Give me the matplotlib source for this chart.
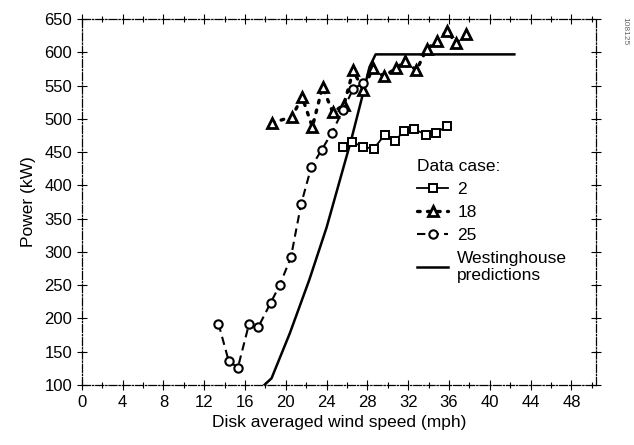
import numpy as np
import matplotlib
matplotlib.use('Agg')
import matplotlib.pyplot as plt
from matplotlib.ticker import MultipleLocator

plt.rcParams['font.family'] = ['Liberation Sans', 'DejaVu Sans']

# data case 2 (squares)
case2_x = [25.6, 26.5, 27.6, 28.6, 29.7, 30.7, 31.6, 32.6, 33.7, 34.7, 35.8]
case2_y = [458, 465, 458, 455, 476, 467, 482, 485, 476, 479, 489]

# data case 18 (triangles)
case18_x = [18.6, 20.6, 21.6, 22.6, 23.6, 24.6, 25.7, 26.6, 27.6, 28.5,
            29.6, 30.8, 31.7, 32.8, 33.8, 34.8, 35.8, 36.7, 37.7]
case18_y = [494, 503, 533, 488, 548, 510, 521, 573, 543, 576,
            564, 576, 587, 573, 605, 617, 632, 614, 628]

# data case 25 (circles)
case25_x = [13.4, 14.4, 15.3, 16.4, 17.3, 18.5, 19.4, 20.5, 21.5, 22.5,
            23.5, 24.5, 25.6, 26.6, 27.6]
case25_y = [192, 136, 126, 192, 187, 223, 250, 292, 372, 428,
            453, 479, 513, 545, 554]

# Westinghouse predictions
west_x = [17.9, 18.6, 20.4, 22.3, 24.0, 25.3, 26.4, 27.4, 28.2, 28.8, 42.4]
west_y = [100, 110, 178, 258, 337, 408, 468, 528, 578, 597, 597]

fig = plt.figure(figsize=(6.34, 4.45), dpi=100)
ax = fig.add_axes([0.129, 0.135, 0.811, 0.822])

ax.plot(west_x, west_y, 'k-', lw=1.8, label='Westinghouse\npredictions')
ax.plot(case2_x, case2_y, 'k-', lw=1.3, marker='s', ms=6, mfc='white',
        mec='black', mew=1.4, label='2')
ax.plot(case18_x, case18_y, color='black', ls=(0, (0.8, 2.2)), lw=2.4,
        dash_capstyle='round', marker='^', ms=7.5, mfc='white', mec='black',
        mew=2, label='18')
ax.plot(case25_x, case25_y, color='black', ls=(0, (4, 2.5)), lw=1.5,
        marker='o', ms=6, mfc='white', mec='black', mew=1.5, label='25')

ax.set_xlim(0, 50.4)
ax.set_ylim(100, 650)
ax.set_xticks(np.arange(0, 49, 4))
ax.xaxis.set_minor_locator(MultipleLocator(2))
ax.set_yticks(np.arange(100, 651, 50))
ax.tick_params(which='both', direction='inout', top=True, right=True,
               length=7, width=0.8, labelsize=12)
ax.tick_params(which='minor', length=5)

for s in ax.spines.values():
    s.set_linestyle('-.')
    s.set_linewidth(0.9)

ax.set_xlabel('Disk averaged wind speed (mph)', fontsize=12.5, labelpad=4)
ax.set_ylabel('Power (kW)', fontsize=12.5, labelpad=6)

h, l = ax.get_legend_handles_labels()
order = [1, 2, 3, 0]
leg = ax.legend([h[i] for i in order], [l[i] for i in order],
                title='Data case:', loc='upper left',
                bbox_to_anchor=(0.622, 0.66), frameon=False, fontsize=12.5,
                title_fontsize=12.5, handlelength=1.8, handletextpad=0.5,
                labelspacing=0.45, alignment='left')

fig.text(0.985, 0.93, '108125', rotation=270, fontsize=6, color='0.4',
         ha='center', va='center')

fig.savefig('out.png', dpi=100)
